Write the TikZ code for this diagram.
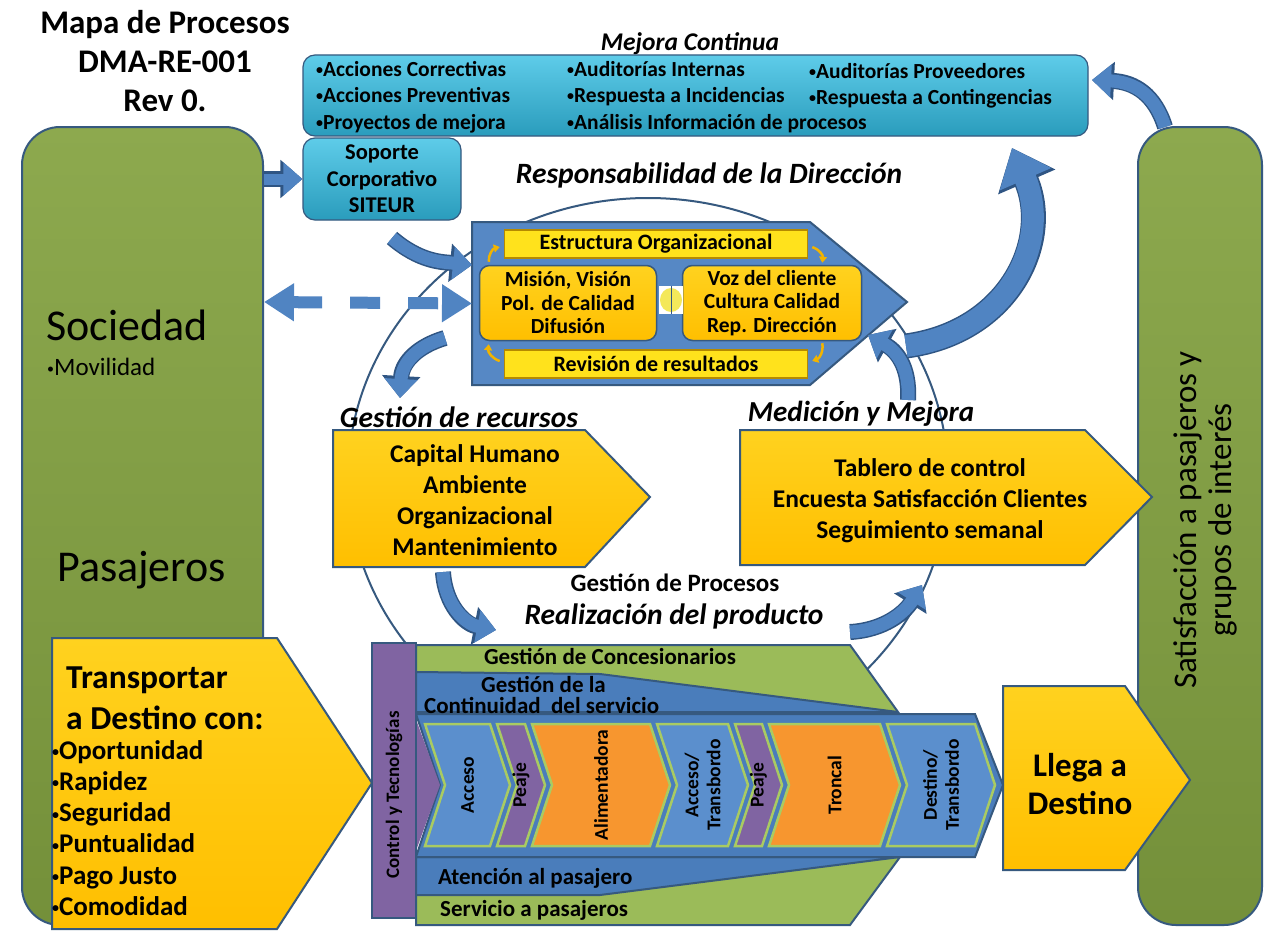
\documentclass[tikz,border=0pt]{standalone}
\usepackage{fontspec}
\setmainfont{Carlito}
\usepackage{tikz}
\usetikzlibrary{arrows.meta, calc}

\definecolor{lineblue}{HTML}{36597F}
\definecolor{greentop}{HTML}{8DA94E}
\definecolor{greenbot}{HTML}{74903A}
\definecolor{cyantop}{HTML}{5ECCE9}
\definecolor{cyanbot}{HTML}{2A9CBC}
\definecolor{goldtop}{HTML}{FFD21F}
\definecolor{goldbot}{HTML}{FFBF00}
\definecolor{barfill}{HTML}{FFE21C}
\definecolor{barline}{HTML}{B58A00}
\definecolor{respblue}{HTML}{5688C5}
\definecolor{rowblue}{HTML}{4A7DBB}
\definecolor{chevblue}{HTML}{5B8FCD}
\definecolor{procpurple}{HTML}{8064A2}
\definecolor{procorange}{HTML}{F7962F}
\definecolor{bandgreen}{HTML}{9BBB59}
\definecolor{sepgreen}{HTML}{A9CB62}
\definecolor{arrowblue}{HTML}{5084C2}
\definecolor{arrowdark}{HTML}{2F5583}
\definecolor{smallgold}{HTML}{F2B400}
\definecolor{iconyellow}{HTML}{F4E85A}

\newcommand{\setfs}[2]{\fontsize{#1}{#2}\selectfont}
\newcommand{\bul}{\raisebox{0.1em}{\fontsize{14}{14}\selectfont•}}

\tikzstyle{outline} = [draw=lineblue, line width=2pt]
\tikzstyle{greenbox} = [outline, rounded corners=38pt, top color=greentop, bottom color=greenbot]
\tikzstyle{cyanbox} = [outline, line width=1.2pt, rounded corners=12pt, top color=cyantop, bottom color=cyanbot]
\tikzstyle{yellowshape} = [outline, top color=goldtop, bottom color=goldbot]
\tikzstyle{yellowbar} = [draw=barline, line width=1.5pt, fill=barfill, inner sep=0pt, font=\bfseries\setfs{22}{24}]
\tikzstyle{yellowround} = [draw=lineblue, line width=1.5pt, rounded corners=10pt, top color=goldtop, bottom color=goldbot, align=center, font=\bfseries\setfs{21.5}{23.5}]
\tikzstyle{chevron} = [draw=sepgreen, line width=2.5pt, line join=miter]
\tikzstyle{bandtext} = [inner sep=0pt, font=\bfseries\setfs{23}{25}]
\tikzstyle{bluearrow} = [line width=13pt, draw=arrowblue, -{Triangle[width=32pt,length=19pt]},
  preaction={draw=arrowdark, line width=16pt, -{Triangle[width=37pt,length=22pt]}}]
\tikzstyle{bigarrow} = [line width=22pt, draw=arrowblue, -{Triangle[width=54pt,length=34pt]},
  preaction={draw=arrowdark, line width=25pt, -{Triangle[width=60pt,length=37pt]}}]
\tikzstyle{dasharrow} = [line width=12pt, draw=arrowblue, dash pattern=on 30pt off 28pt,
  {Triangle[width=36pt,length=30pt]}-{Triangle[width=36pt,length=30pt]}]
\tikzstyle{smallarrow} = [line width=2.5pt, draw=smallgold, -{Triangle[width=8pt,length=6pt]}]

\begin{document}
\begin{tikzpicture}[x=1pt, y=-1pt]

    \fill[white] (0,0) rectangle (1265,931);
    \useasboundingbox (0,0) rectangle (1265,931);

    % circle of the process cycle
    \draw[lineblue, line width=2pt] (648,478) ellipse [x radius=300, y radius=280];

    % title
    \node at (165,61) [font=\bfseries\setfs{33}{39}, align=center] (title) {Mapa de Procesos\\DMA-RE-001\\Rev 0.};

    % side boxes
    \node at (142.5,526) [greenbox, minimum width=241pt, minimum height=798pt] (sociedadbox) {};
    \node at (1200,526) [greenbox, minimum width=124pt, minimum height=798pt] (satisfbox) {};
    \node at (46,325) [anchor=west, inner sep=0pt, font=\setfs{44}{48}] (sociedad) {Sociedad};
    \node at (47,367) [anchor=west, inner sep=0pt, font=\setfs{25}{28}] (movilidad) {\bul Movilidad};
    \node at (57,570) [anchor=west, inner sep=0pt, font=\setfs{44}{48}] (pasajeros) {Pasajeros};
    \node at (1205,520) [rotate=90, align=center, font=\setfs{33}{35}] (satisf) {Satisfacción a pasajeros y\\grupos de interés};

    % mejora continua
    \node at (690,44) [font=\bfseries\itshape\setfs{25.5}{28}] (mejoralbl) {Mejora Continua};
    \node at (695.5,95.5) [cyanbox, minimum width=785pt, minimum height=81pt] (mejora) {};
    \node at (316,97) [anchor=west, inner sep=0pt, align=left, font=\bfseries\setfs{21.5}{26.5}] (mejora1) {\bul Acciones Correctivas\\\bul Acciones Preventivas\\\bul Proyectos de mejora};
    \node at (567,97) [anchor=west, inner sep=0pt, align=left, font=\bfseries\setfs{21.5}{26.5}] (mejora2) {\bul Auditorías Internas\\\bul Respuesta a Incidencias\\\bul Análisis Información de procesos};
    \node at (809,86) [anchor=west, inner sep=0pt, align=left, font=\bfseries\setfs{21.5}{26.5}] (mejora3) {\bul Auditorías Proveedores\\\bul Respuesta a Contingencias};
    \node at (382,179) [cyanbox, minimum width=158pt, minimum height=82pt, inner sep=0pt, align=center, font=\bfseries\setfs{22.5}{26.5}] (soporte) {Soporte\\Corporativo\\SITEUR};

    % responsabilidad de la direccion
    \node at (709,175) [font=\bfseries\itshape\setfs{29.5}{32}] (resplbl) {Responsabilidad de la Dirección};
    \coordinate (respnw) at (472,222);
    \coordinate (respne) at (810,222);
    \coordinate (resptip) at (907,302);
    \coordinate (respse) at (810,385);
    \coordinate (respsw) at (472,385);
    \draw[outline, fill=respblue] (respnw) -- (respne) -- (resptip) -- (respse) -- (respsw) -- cycle;
    \node at (656,244) [yellowbar, minimum width=303pt, minimum height=28pt] (estructura) {Estructura Organizacional};
    \node at (656,364) [yellowbar, minimum width=303pt, minimum height=28pt] (revision) {Revisión de resultados};
    \node at (568,303) [yellowround, minimum width=177pt, minimum height=75pt, inner sep=0pt] (mision) {Misión, Visión\\Pol. de Calidad\\Difusión};
    \node at (772,303) [yellowround, minimum width=179pt, minimum height=75pt, inner sep=0pt] (voz) {Voz del cliente\\Cultura Calidad\\Rep. Dirección};
    \node at (671,300) [fill=white, minimum width=24pt, minimum height=28pt, inner sep=0pt] (icono) {};
    \fill[iconyellow] (icono.center) ellipse [x radius=11, y radius=12];
    \draw[lineblue, line width=0.8pt] (icono.north) -- (icono.south);
    \draw[smallarrow] ($(mision.north west)+(10,-3)$) to[bend left=40] ($(estructura.west)+(-4,3)$);
    \draw[smallarrow] ($(estructura.east)+(4,3)$) to[bend left=40] ($(voz.north east)+(-40,-2)$);
    \draw[smallarrow] ($(voz.south east)+(-40,2)$) to[bend left=40] ($(revision.east)+(4,-3)$);
    \draw[smallarrow] ($(revision.west)+(-4,-3)$) to[bend left=40] ($(mision.south west)+(10,3)$);

    % gestion de recursos
    \node at (459,417) [font=\bfseries\itshape\setfs{29.5}{32}] (recursoslbl) {Gestión de recursos};
    \draw[yellowshape] (333,430) -- (585,430) -- (650,497) -- (585,567) -- (333,567) -- cycle;
    \node at (475,500) [align=center, font=\bfseries\setfs{25.5}{31}] (recursos) {Capital Humano\\Ambiente\\Organizacional\\Mantenimiento};

    % medicion y mejora
    \node at (861,414) [font=\bfseries\itshape\setfs{29}{32}] (medicionlbl) {Medición y Mejora};
    \draw[yellowshape] (740,430) -- (1085,430) -- (1152,497) -- (1085,565) -- (740,565) -- cycle;
    \node at (930,501) [align=center, font=\bfseries\setfs{25.5}{31}] (medicion) {Tablero de control\\Encuesta Satisfacción Clientes\\Seguimiento semanal};

    % realizacion del producto
    \node at (675,583) [font=\bfseries\setfs{25}{27}] (procesoslbl) {Gestión de Procesos};
    \node at (674,616) [font=\bfseries\itshape\setfs{29.5}{32}] (realizlbl) {Realización del producto};

    % entrada y salida
    \draw[yellowshape] (52,638) -- (277,638) -- (372,783) -- (277,929) -- (52,929) -- cycle;
    \node at (66,698) [anchor=west, inner sep=0pt, align=left, font=\bfseries\setfs{33.5}{41}] (transportar) {Transportar\\a Destino con:};
    \node at (52,828) [anchor=west, inner sep=0pt, align=left, font=\bfseries\setfs{27}{31.2}] (cualidades) {\bul Oportunidad\\\bul Rapidez\\\bul Seguridad\\\bul Puntualidad\\\bul Pago Justo\\\bul Comodidad};
    \draw[yellowshape] (1003,686) -- (1125,686) -- (1190,780) -- (1125,870) -- (1003,870) -- cycle;
    \node at (1080,784) [align=center, font=\bfseries\setfs{33}{38}] (llega) {Llega a\\Destino};

    % process chain
    \draw[outline, fill=bandgreen] (416,645) -- (850,645) -- (898,712) -- (416,712) -- cycle;
    \draw[outline, fill=rowblue] (416,672) -- (600,674) -- (898,712) -- (416,712) -- cycle;
    \draw[outline, fill=bandgreen] (416,857) -- (900,857) -- (850,925) -- (416,925) -- cycle;
    \draw[outline, fill=rowblue] (416,857) -- (900,857) -- (600,895) -- (416,895) -- cycle;
    \draw[outline, fill=rowblue] (416,714) -- (975,714) -- (1003,785) -- (975,857) -- (416,857) -- (440,785) -- cycle;
    \node at (394,780.5) [outline, fill=procpurple, minimum width=44pt, minimum height=275pt] (control) {};
    \fill[procpurple] (417,722) -- (440,785) -- (417,848) -- cycle;
    \node at (394,795) [rotate=90, font=\bfseries\setfs{19}{21}] (controltxt) {Control y Tecnologías};
    \foreach \xa/\xb/\col/\txt in {425/490/chevblue/Acceso, 497/525/procpurple/Peaje,
        532/650/procorange/Alimentadora, 657/728/chevblue/{Acceso/\\Transbordo},
        735/762/procpurple/Peaje, 769/880/procorange/Troncal, 887/975/chevblue/{Destino/\\Transbordo}}
    {
        \draw[chevron, fill=\col] (\xa,724) -- (\xb,724) -- (\xb+20,785) -- (\xb,846) -- (\xa,846) -- (\xa+20,785) -- cycle;
        \node at ({(\xa+\xb)/2+10},785) [rotate=90, align=center, inner sep=0pt, font=\bfseries\setfs{19.5}{22}] (chev\xa) {\txt};
    }
    \node at (610,656) [bandtext] (concesion) {Gestión de Concesionarios};
    \node at (481,684) [bandtext, anchor=west] (continuidad) {Gestión de la};
    \node at (424,705) [bandtext, anchor=west] (continuidad2) {Continuidad\ \ del servicio};
    \node at (438,878) [bandtext, anchor=west] (atencion) {Atención al pasajero};
    \node at (440,910) [bandtext, anchor=west] (servicio) {Servicio a pasajeros};

    % arrows between the processes
    \coordinate (soporteout) at (392,238);
    \coordinate (respin) at (472,265);
    \coordinate (respout) at (445,338);
    \coordinate (recursosin) at (400,398);
    \coordinate (recursosout) at (443,572);
    \coordinate (realizin) at (496,630);
    \coordinate (realizout) at (850,632);
    \coordinate (medicionin) at (922,585);
    \coordinate (medicionout) at (908,400);
    \coordinate (respback) at (868,335);
    \coordinate (respup) at (906,346);
    \coordinate (mejorain) at (1012,148);
    \coordinate (satisfout) at (1165,127);
    \coordinate (mejoraback) at (1092,80);

    \draw[bluearrow] (soporteout) .. controls (420,262) and (442,262) .. (respin);
    \draw[bluearrow] (respout) .. controls (418,346) and (402,362) .. (recursosin);
    \draw[bluearrow] (recursosout) .. controls (445,605) and (465,624) .. (realizin);
    \draw[bluearrow] (realizout) .. controls (885,630) and (905,612) .. (medicionin);
    \draw[bluearrow] (medicionout) .. controls (910,365) and (895,350) .. (respback);
    \draw[bigarrow] (respup) .. controls (1010,332) and (1052,240) .. (mejorain);
    \draw[bluearrow] (satisfout) .. controls (1155,95) and (1135,82) .. (mejoraback);
    \draw[bluearrow, line width=11pt] (sociedadbox.east |- soporte.west) -- (soporte.west);
    \draw[dasharrow] (sociedadbox.east |- resptip) -- ($(respnw)!0.5!(respsw)$);

\end{tikzpicture}
\end{document}
